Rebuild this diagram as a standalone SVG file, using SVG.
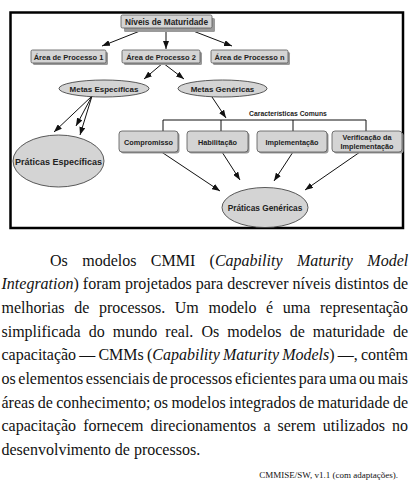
<svg xmlns="http://www.w3.org/2000/svg" width="413" height="494" viewBox="0 0 413 494">
<style>
.bx{fill:#d4d4d4;stroke:#555;stroke-width:0.8}
.sh{fill:#9a9a9a}
.el{fill:#d4d4d4;stroke:#333;stroke-width:0.8}
.lb{font-weight:bold;fill:#222;text-anchor:middle}
.cn{stroke:#111;stroke-width:1;fill:none}
.p{font-size:16px;fill:#111}
.i{font-style:italic}
</style>
<defs>
<marker id="ah" markerWidth="8" markerHeight="6" refX="8" refY="3" orient="auto" markerUnits="userSpaceOnUse">
<path d="M0,0 L8,3 L0,6 z" fill="#111"/>
</marker>
</defs>
<rect width="413" height="494" fill="#fff"/>
<rect x="10.5" y="12.5" width="392.5" height="215.5" fill="none" stroke="#000" stroke-width="2.5"/>

<g id="connectors">
<line class="cn" x1="145" y1="29" x2="102" y2="46" marker-end="url(#ah)"/>
<line class="cn" x1="166" y1="29" x2="166" y2="49" stroke-width="2" marker-end="url(#ah)"/>
<line class="cn" x1="188" y1="29" x2="232" y2="46" marker-end="url(#ah)"/>
<line class="cn" x1="163" y1="63" x2="144" y2="79" marker-end="url(#ah)"/>
<line class="cn" x1="163" y1="63" x2="184" y2="79" marker-end="url(#ah)"/>
<line class="cn" x1="92" y1="96" x2="54" y2="132" marker-end="url(#ah)"/>
<line class="cn" x1="92" y1="96" x2="76" y2="126" marker-end="url(#ah)"/>
<line class="cn" x1="92" y1="96" x2="80" y2="135" marker-end="url(#ah)"/>
<line class="cn" x1="212" y1="97" x2="226" y2="118" marker-end="url(#ah)"/>
<path class="cn" d="M163,131 V120 H366 V131 M221,120 V131 M293,120 V131" stroke-width="1.6"/>
<line class="cn" x1="160" y1="151" x2="220" y2="191" marker-end="url(#ah)"/>
<line class="cn" x1="222" y1="152" x2="240" y2="180" marker-end="url(#ah)"/>
<line class="cn" x1="293" y1="152" x2="274" y2="181" marker-end="url(#ah)"/>
<line class="cn" x1="360" y1="152" x2="305" y2="190" marker-end="url(#ah)"/>
</g>

<g font-family="'Liberation Sans', Arial, sans-serif">
<g id="niveis">
<rect class="sh" x="124" y="18" width="91" height="14" rx="1.5"/>
<rect class="bx" x="121" y="15" width="91" height="13" rx="1.5"/>
<text class="lb" x="166.5" y="24.8" font-size="8.3">Níveis de Maturidade</text>
</g>
<g id="area1">
<rect class="sh" x="33" y="52" width="75" height="13" rx="1.5"/>
<rect class="bx" x="31" y="50" width="75" height="13" rx="1.5"/>
<text class="lb" x="68.5" y="59.5" font-size="7.5">Área de Processo 1</text>
</g>
<g id="area2">
<rect class="sh" x="124" y="52" width="78" height="13" rx="1.5"/>
<rect class="bx" x="122" y="50" width="78" height="13" rx="1.5"/>
<text class="lb" x="161" y="59.5" font-size="7.5">Área de Processo 2</text>
</g>
<g id="arean">
<rect class="sh" x="213" y="52" width="77" height="13" rx="1.5"/>
<rect class="bx" x="211" y="50" width="77" height="13" rx="1.5"/>
<text class="lb" x="249.5" y="59.5" font-size="7.5">Área de Processo n</text>
</g>
<g id="metas-esp">
<ellipse class="el" cx="104" cy="88.5" rx="45" ry="8.5"/>
<text class="lb" x="104" y="91.5" font-size="8">Metas Específicas</text>
</g>
<g id="metas-gen">
<ellipse class="el" cx="222.5" cy="88.5" rx="44.5" ry="8.5"/>
<text class="lb" x="222.5" y="91.5" font-size="8">Metas Genéricas</text>
</g>
<g id="praticas-esp">
<ellipse class="el" cx="58.5" cy="161" rx="45.5" ry="26"/>
<text class="lb" x="58.5" y="164.5" font-size="9">Práticas Específicas</text>
</g>
<text id="caracteristicas" class="lb" x="288" y="116" font-size="6.8">Características Comuns</text>
<g id="compromisso">
<rect class="sh" x="120.5" y="132.5" width="59" height="21" rx="3"/>
<rect class="bx" x="119" y="131" width="59" height="21" rx="3"/>
<text class="lb" x="148.5" y="144.5" font-size="7.3">Compromisso</text>
</g>
<g id="habilitacao">
<rect class="sh" x="188.5" y="132.5" width="61" height="21" rx="3"/>
<rect class="bx" x="187" y="131" width="61" height="21" rx="3"/>
<text class="lb" x="217.5" y="144.5" font-size="7.3">Habilitação</text>
</g>
<g id="implementacao">
<rect class="sh" x="258.5" y="132.5" width="70" height="21" rx="3"/>
<rect class="bx" x="257" y="131" width="70" height="21" rx="3"/>
<text class="lb" x="292" y="144.5" font-size="7.3">Implementação</text>
</g>
<g id="verificacao">
<rect class="sh" x="333.5" y="132.5" width="70" height="21" rx="3"/>
<rect class="bx" x="332" y="131" width="70" height="21" rx="3"/>
<text class="lb" x="367" y="139.5" font-size="7.3">Verificação da</text>
<text class="lb" x="367" y="148.5" font-size="7.3">Implementação</text>
</g>
<g id="praticas-gen">
<ellipse class="el" cx="265" cy="207.5" rx="43" ry="20"/>
<text class="lb" x="265" y="211" font-size="8.3">Práticas Genéricas</text>
</g>
</g>

<g id="texto" font-family="'Liberation Serif', 'Times New Roman', serif">
<text class="p" y="265.5"><tspan x="50">Os</tspan><tspan x="82.2">modelos</tspan><tspan x="150.8">CMMI</tspan><tspan x="209.6">(</tspan><tspan class="i">Capability</tspan><tspan class="i" x="296.9">Maturity</tspan><tspan class="i" x="367.3">Model</tspan></text>
<text class="p" x="1.5" y="289.2"><tspan class="i">Integration</tspan>) foram projetados para descrever níveis distintos de</text>
<text class="p" y="312.9"><tspan x="1.5">melhorias</tspan><tspan x="74.24">de</tspan><tspan x="98.98">processos.</tspan><tspan x="174.82">Um</tspan><tspan x="208.46">modelo</tspan><tspan x="266.1">é</tspan><tspan x="282.84">uma</tspan><tspan x="320.03">representação</tspan></text>
<text class="p" y="336.6"><tspan x="1.5">simplificada</tspan><tspan x="88.7">do</tspan><tspan x="112.8">mundo</tspan><tspan x="165.35">real.</tspan><tspan x="201.43">Os</tspan><tspan x="227.31">modelos</tspan><tspan x="289.63">de</tspan><tspan x="312.83">maturidade</tspan><tspan x="392.91">de</tspan></text>
<text class="p" y="360.3"><tspan x="1.5">capacitação</tspan><tspan x="79.28">—</tspan><tspan x="98.44">CMMs</tspan><tspan x="146.94">(</tspan><tspan class="i">Capability</tspan><tspan class="i" x="223">Maturity</tspan><tspan x="282.16"><tspan class="i">Models</tspan>)</tspan><tspan x="337.75">—,</tspan><tspan x="360.91">contêm</tspan></text>
<text class="p" y="384"><tspan x="1.5">os</tspan><tspan x="18.32">elementos</tspan><tspan x="85.8">essenciais</tspan><tspan x="152.38">de</tspan><tspan x="170.08">processos</tspan><tspan x="234.9">eficientes</tspan><tspan x="298.81">para</tspan><tspan x="328.95">uma</tspan><tspan x="359.1">ou</tspan><tspan x="377.7">mais</tspan></text>
<text class="p" y="407.7"><tspan x="1.5">áreas</tspan><tspan x="37.74">de</tspan><tspan x="56.22">conhecimento;</tspan><tspan x="153.81">os</tspan><tspan x="171.41">modelos</tspan><tspan x="229.01">integrados</tspan><tspan x="299.05">de</tspan><tspan x="317.53">maturidade</tspan><tspan x="392.89">de</tspan></text>
<text class="p" y="431.4"><tspan x="1.5">capacitação</tspan><tspan x="83.15">fornecem</tspan><tspan x="150.6">direcionamentos</tspan><tspan x="263.39">a</tspan><tspan x="277.52">serem</tspan><tspan x="322.76">utilizados</tspan><tspan x="392.01">no</tspan></text>
<text class="p" x="1.5" y="455.1">desenvolvimento de processos.</text>
<text x="398" y="478" text-anchor="end" font-size="9" fill="#111">CMMISE/SW, v1.1 (com adaptações).</text>
</g>
</svg>
